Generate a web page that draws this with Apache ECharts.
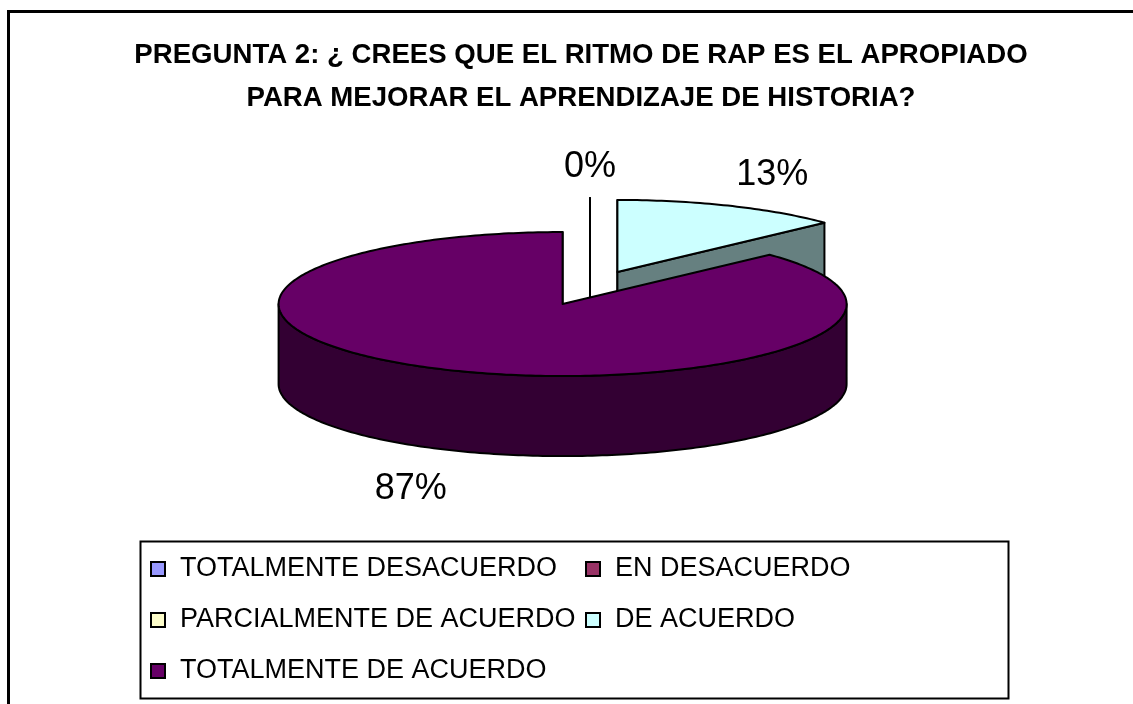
<!DOCTYPE html>
<html>
<head>
<meta charset="utf-8">
<script src="https://cdn.jsdelivr.net/npm/echarts@6/dist/echarts.min.js"></script>
<style>
  html, body { margin: 0; padding: 0; background: #ffffff; }
  #chart { width: 1133px; height: 704px; }
</style>
</head>
<body>
<div id="chart"></div>
<script>
// Survey answers and their shares (percent)
const categories = [
  'TOTALMENTE DESACUERDO',
  'EN DESACUERDO',
  'PARCIALMENTE DE ACUERDO',
  'DE ACUERDO',
  'TOTALMENTE DE ACUERDO'
];
const values = [0, 0, 0, 13, 87];
const colors = ['#9999FF', '#993366', '#FFFFCC', '#CCFFFF', '#660066'];
const titleLines = [
  'PREGUNTA 2: ¿ CREES QUE EL RITMO DE RAP ES EL APROPIADO',
  'PARA MEJORAR EL APRENDIZAJE DE HISTORIA?'
];

const FONT = "'Liberation Sans', Arial, Helvetica, sans-serif";

// Tilted 3D pie layout: centre, ellipse radii, wall height, explode distance (fraction of radius)
const PIE = { cx: 590, cy: 288, rx: 284, ry: 72, depth: 80, explode: 0.243 };

// Slice angles, clockwise from 12 o'clock
const total = values.reduce((a, b) => a + b, 0);
const slices = [];
let acc = 0;
values.forEach(v => {
  const a0 = acc / total * Math.PI * 2;
  acc += v;
  const a1 = acc / total * Math.PI * 2;
  slices.push({ a0, a1, mid: (a0 + a1) / 2 });
});

// Painter's order: slices further back are drawn first
const order = slices.map((s, i) => i).sort((a, b) => Math.cos(slices[b].mid) - Math.cos(slices[a].mid));
const zBase = [];
order.forEach((idx, rank) => { zBase[idx] = rank * 10; });

// Only one label per position (coinciding zero slices share one)
const labelShown = slices.map((s, i) => !slices.some((t, j) => j > i && Math.abs(t.mid - s.mid) < 1e-9));

function darken(hex) {
  const n = parseInt(hex.slice(1), 16);
  const r = (n >> 16) & 255, g = (n >> 8) & 255, b = n & 255;
  const h = c => Math.round(c / 2).toString(16).padStart(2, '0');
  return '#' + h(r) + h(g) + h(b);
}

function renderSlice(params, api) {
  const i = params.seriesIndex;
  const s = slices[i];
  const ox = PIE.cx + PIE.rx * PIE.explode * Math.sin(s.mid);
  const oy = PIE.cy - PIE.ry * PIE.explode * Math.cos(s.mid);
  const pt = (a, dz) => [ox + PIE.rx * Math.sin(a), oy - PIE.ry * Math.cos(a) + (dz || 0)];
  const arc = (a0, a1, dz) => {
    const n = Math.max(2, Math.ceil((a1 - a0) / (Math.PI / 180)) + 1);
    const pts = [];
    for (let k = 0; k < n; k++) pts.push(pt(a0 + (a1 - a0) * k / (n - 1), dz));
    return pts;
  };
  const top = colors[i];
  const side = darken(top);
  const line = { stroke: '#000', lineWidth: 2, lineJoin: 'round' };
  const base = zBase[i];
  const children = [];
  const center = [ox, oy];
  const centerLow = [ox, oy + PIE.depth];

  // cut faces that turn towards the viewer (edge-on ones draw as lines)
  const face = a => ({
    type: 'polygon', z2: base + 1,
    shape: { points: [center, pt(a), pt(a, PIE.depth), centerLow] },
    style: Object.assign({ fill: side }, line)
  });
  if (Math.sin(s.a0) < 1e-9) children.push(face(s.a0));
  if (Math.sin(s.a1) > -1e-9) children.push(face(s.a1));

  // outer wall on the front half of the ellipse
  const b0 = Math.max(s.a0, Math.PI / 2), b1 = Math.min(s.a1, Math.PI * 1.5);
  if (b1 > b0) {
    const upper = arc(b0, b1, 0);
    const lower = arc(b0, b1, PIE.depth).reverse();
    children.push({
      type: 'polygon', z2: base + 2,
      shape: { points: upper.concat(lower) },
      style: Object.assign({ fill: side }, line)
    });
  }

  // top face
  children.push({
    type: 'polygon', z2: base + 3,
    shape: { points: [center].concat(arc(s.a0, s.a1, 0)) },
    style: Object.assign({ fill: top }, line)
  });

  // percentage label outside the slice
  if (labelShown[i]) {
    const sn = Math.sin(s.mid), cs = Math.cos(s.mid);
    const front = cs < 0;
    const p = pt(s.mid, front ? PIE.depth : 0);
    const align = sn > 0.05 ? 'left' : (sn < -0.05 ? 'right' : 'center');
    children.push({
      type: 'text', z2: 500,
      style: {
        text: Math.round(api.value(0) / total * 100) + '%',
        x: p[0] + (align === 'left' ? 6 : align === 'right' ? -3 : 0),
        y: front ? p[1] + 21 : p[1] - 13,
        align: align,
        verticalAlign: front ? 'top' : 'bottom',
        fontFamily: FONT, fontSize: 36, fill: '#000'
      }
    });
  }
  return { type: 'group', children };
}

const chart = echarts.init(document.getElementById('chart'), null, { renderer: 'canvas' });

chart.setOption({
  animation: false,
  backgroundColor: '#ffffff',
  color: colors,
  title: {
    text: titleLines.join('\n'),
    left: 581,
    top: 34,
    padding: 0,
    textAlign: 'center',
    textStyle: { fontFamily: FONT, fontSize: 27.6, fontWeight: 'bold', color: '#000', lineHeight: 43 }
  },
  legend: {
    left: 150,
    top: 546,
    width: 880,
    padding: 0,
    itemGap: 5,
    itemWidth: 14,
    itemHeight: 14,
    icon: 'rect',
    selectedMode: false,
    itemStyle: { borderColor: '#000', borderWidth: 2 },
    textStyle: {
      fontFamily: FONT, fontSize: 27, color: '#000',
      width: 400, overflow: 'none', lineHeight: 46, padding: [0, 0, 0, 10]
    },
    data: categories
  },
  graphic: [
    { type: 'rect', silent: true, z: 0,
      shape: { x: 8.5, y: 11.5, width: 1200, height: 800 },
      style: { fill: 'none', stroke: '#000', lineWidth: 3 } },
    { type: 'rect', silent: true, z: 0,
      shape: { x: 140.5, y: 541.5, width: 868, height: 157 },
      style: { fill: 'none', stroke: '#000', lineWidth: 2 } }
  ],
  series: categories.map((name, i) => ({
    type: 'custom',
    name: name,
    coordinateSystem: 'none',
    itemStyle: { color: colors[i] },
    renderItem: renderSlice,
    data: [[values[i]]]
  }))
});
</script>
</body>
</html>
